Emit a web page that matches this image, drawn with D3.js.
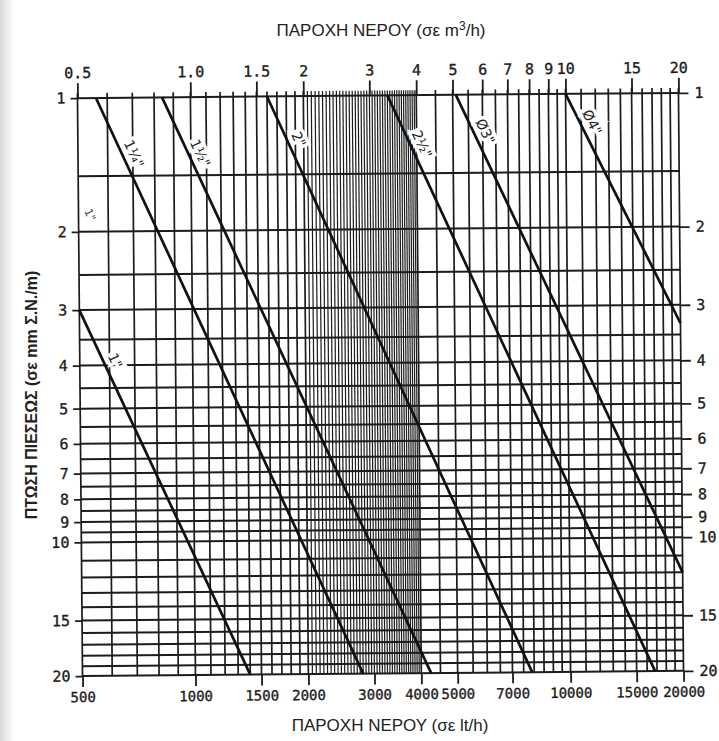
<!DOCTYPE html>
<html>
<head>
<meta charset="utf-8">
<script src="https://cdn.jsdelivr.net/npm/d3@7"></script>
<style>
  body { margin: 0; background: #fff; }
  svg { display: block; }
  .tick text { fill: #1c1c1c; stroke: #1c1c1c; stroke-width: 0.35px; }
</style>
</head>
<body>
<div id="chart"></div>
<script>
// tick labels
const flowTicks = [500, 1000, 1500, 2000, 3000, 4000, 5000, 7000, 10000, 15000, 20000]
const m3Ticks = [0.5, 1.0, 1.5, 2, 3, 4, 5, 6, 7, 8, 9, 10, 15, 20]
const dropTicks = [1, 2, 3, 4, 5, 6, 7, 8, 9, 10, 15, 20]

// pipe lines, [lt/h, mm/m] at both ends
const pipes = ['1"', '1¼"', '1½"', '2"', '2½"', 'Ø3"', 'Ø4"']
const pipeStart = [[500, 3.0], [560, 1], [840, 1], [1600, 1], [3350, 1], [5100, 1], [10000, 1]]
const pipeEnd = [[1400, 20], [2800, 20], [4250, 20], [7900, 20], [16800, 20], [20000, 12], [20000, 3.3]]
// pressure drop where each name is written
const pipeLabelAt = [4.0, 1.37, 1.37, 1.28, 1.32, 1.24, 1.19]

const width = 719, height = 741

const svg = d3.select('#chart').append('svg')
  .attr('width', width).attr('height', height)

// scanned page: greyish left edge
const grad = svg.append('defs').append('linearGradient').attr('id', 'edge')
grad.append('stop').attr('offset', 0).attr('stop-color', '#d9d9d9')
grad.append('stop').attr('offset', 1).attr('stop-color', '#fff')
svg.append('rect').attr('width', width).attr('height', height).attr('fill', '#fff')
svg.append('rect').attr('width', 14).attr('height', height).attr('fill', 'url(#edge)')

// scales (log-log)
const x = d3.scaleLog().domain([500, 20000]).range([80, 681])
const xm3 = d3.scaleLog().domain([0.5, 20]).range([80, 681])
const y = d3.scaleLog().domain([1, 20]).range([95.5, 673.5])

// the scan is slightly tilted
const g = svg.append('g').attr('transform', 'rotate(-0.5,380,385)')

// grid: vertical lines
const vGrid = [].concat(
  d3.range(500, 2000, 100),
  d3.range(2000, 4000, 50),
  d3.range(4000, 10000, 500),
  d3.range(10000, 20001, 1000))
g.append('g').selectAll('line').data(vGrid).enter().append('line')
  .attr('x1', d => x(d)).attr('x2', d => x(d))
  .attr('y1', y(1) - 5).attr('y2', y(20))
  .attr('stroke', '#1c1c1c').attr('stroke-width', d => (d > 2000 && d < 4000) ? 1.2 : 1.7)

// grid: horizontal lines
const hGrid = [].concat(d3.range(1, 10, 0.5), d3.range(10, 21, 1))
g.append('g').selectAll('line').data(hGrid).enter().append('line')
  .attr('x1', x(500)).attr('x2', x(20000))
  .attr('y1', d => y(d)).attr('y2', d => y(d))
  .attr('stroke', '#1c1c1c').attr('stroke-width', 2)

// axes
const monoFont = '"DejaVu Sans Mono", "Liberation Mono", monospace'
function styleAxis(sel, size) {
  sel.select('.domain').remove()
  sel.selectAll('.tick line').attr('stroke', '#1c1c1c').attr('stroke-width', 1.8)
  sel.selectAll('.tick text').style('font-family', monoFont).style('font-size', size + 'px')
}

g.append('g').attr('transform', 'translate(0,' + y(20) + ')')
  .call(d3.axisBottom(x).tickValues(flowTicks).tickFormat(d3.format('d')).tickSize(11).tickPadding(5))
  .call(styleAxis, 14)

g.append('g').attr('transform', 'translate(0,' + y(1) + ')')
  .call(d3.axisTop(xm3).tickValues(m3Ticks).tickFormat(d => (d === 0.5 || d === 1 || d === 1.5) ? d3.format('.1f')(d) : d).tickSize(15).tickPadding(5))
  .call(styleAxis, 15)

g.append('g').attr('transform', 'translate(' + x(500) + ',0)')
  .call(d3.axisLeft(y).tickValues(dropTicks).tickFormat(d3.format('d')).tickSize(7).tickPadding(5))
  .call(styleAxis, 15)

g.append('g').attr('transform', 'translate(' + x(20000) + ',0)')
  .call(d3.axisRight(y).tickValues(dropTicks).tickFormat(d3.format('d')).tickSize(10).tickPadding(6))
  .call(styleAxis, 15)

// pipe lines
g.append('g').selectAll('line').data(pipes).enter().append('line')
  .attr('x1', (d, i) => x(pipeStart[i][0])).attr('y1', (d, i) => y(pipeStart[i][1]))
  .attr('x2', (d, i) => x(pipeEnd[i][0])).attr('y2', (d, i) => y(pipeEnd[i][1]))
  .attr('stroke', '#111').attr('stroke-width', 2.7)

// pipe names written along each line
g.append('g').selectAll('text').data(pipes).enter().append('text')
  .each(function(d, i) {
    const a = pipeStart[i], b = pipeEnd[i]
    const t = (Math.log(pipeLabelAt[i]) - Math.log(a[1])) / (Math.log(b[1]) - Math.log(a[1]))
    const q = Math.exp(Math.log(a[0]) + t * (Math.log(b[0]) - Math.log(a[0])))
    const px = x(q), py = y(pipeLabelAt[i])
    const ang = Math.atan2(y(b[1]) - y(a[1]), x(b[0]) - x(a[0])) * 180 / Math.PI
    d3.select(this)
      .attr('transform', 'translate(' + px + ',' + py + ') rotate(' + ang + ')')
      .attr('dy', -6)
      .attr('text-anchor', 'middle')
      .style('font-family', '"DejaVu Sans", sans-serif')
      .style('font-size', '14px')
      .attr('fill', '#222')
      .attr('stroke', '#fff').attr('stroke-width', 7).attr('paint-order', 'stroke')
      .text(d)
  })

// stray mark near the upper left
g.append('text')
  .attr('transform', 'translate(88,214) rotate(65)')
  .attr('text-anchor', 'middle')
  .style('font-family', '"DejaVu Sans", sans-serif').style('font-size', '11px')
  .attr('fill', '#444').attr('stroke', '#fff').attr('stroke-width', 5).attr('paint-order', 'stroke')
  .text('1"')

// titles
const titleFont = '"Liberation Sans", Arial, sans-serif'
const topTitle = svg.append('text').attr('x', 381).attr('y', 36).attr('text-anchor', 'middle')
  .style('font-family', titleFont).style('font-size', '17px').attr('fill', '#222')
topTitle.append('tspan').text('ΠΑΡΟΧΗ ΝΕΡΟΥ (σε m')
topTitle.append('tspan').attr('dy', -6).style('font-size', '12px').text('3')
topTitle.append('tspan').attr('dy', 6).text('/h)')

svg.append('text').attr('x', 390).attr('y', 731).attr('text-anchor', 'middle')
  .style('font-family', titleFont).style('font-size', '17px').attr('fill', '#222')
  .text('ΠΑΡΟΧΗ ΝΕΡΟΥ (σε lt/h)')

svg.append('text').attr('transform', 'translate(37,395) rotate(-90)').attr('text-anchor', 'middle')
  .style('font-family', titleFont).style('font-size', '16px').style('font-weight', 'bold').attr('fill', '#222')
  .text('ΠΤΩΣΗ ΠΙΕΣΕΩΣ (σε mm Σ.Ν./m)')
</script>
</body>
</html>
